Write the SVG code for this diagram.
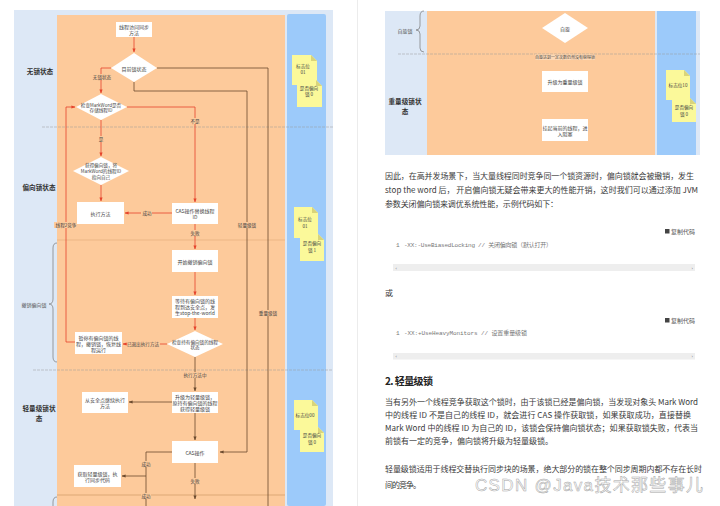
<svg xmlns="http://www.w3.org/2000/svg" width="720" height="506" viewBox="0 0 720 506">
<defs>
<style>
.lb{fill:#dde8f6}
.or{fill:#fdca9b}
.ln{fill:#9ccafa}
.bx{fill:#ffffff}
.t{font-family:"Noto Sans CJK SC","Liberation Sans",sans-serif;font-size:5px;fill:#444;text-anchor:middle;dominant-baseline:central}
.lab{font-family:"Noto Sans CJK SC","Liberation Sans",sans-serif;font-size:4.6px;fill:#444;text-anchor:middle;dominant-baseline:central}
.hd{font-family:"Noto Sans CJK SC","Liberation Sans",sans-serif;font-size:6.6px;font-weight:bold;fill:#333;text-anchor:middle;dominant-baseline:central}
.sl{font-family:"Noto Sans CJK SC","Liberation Sans",sans-serif;font-size:5px;fill:#555;text-anchor:middle;dominant-baseline:central}
.nt{fill:#fbf99a}
.fold{fill:#d9d47a}
.rd{fill:none;stroke:#e5432b;stroke-width:0.8}
.br{fill:none;stroke:#6b4a2e;stroke-width:0.8}
.sep{stroke:#9a9a9a;stroke-width:0.5;stroke-dasharray:3 1}
.brace{fill:none;stroke:#777;stroke-width:0.7}
.p{font-family:"Noto Sans CJK SC","Liberation Sans",sans-serif;font-size:8px;fill:#3a3a3a}
.code{font-family:"Liberation Mono","Noto Sans CJK SC",monospace;font-size:6px;fill:#777}
.cp{font-family:"Noto Sans CJK SC","Liberation Sans",sans-serif;font-size:6px;fill:#555}
.lbg{fill:#fdca9b}
</style>
<marker id="ar" viewBox="0 0 10 10" refX="9" refY="5" markerWidth="5" markerHeight="5" orient="auto"><path d="M0,1 L10,5 L0,9 z" fill="#e5432b"/></marker>
<marker id="ab" viewBox="0 0 10 10" refX="9" refY="5" markerWidth="5" markerHeight="5" orient="auto"><path d="M0,1 L10,5 L0,9 z" fill="#6b4a2e"/></marker>
</defs>

<rect width="720" height="506" fill="#ffffff"/>
<line x1="357.5" y1="0" x2="357.5" y2="506" stroke="#ececec" stroke-width="1"/>

<!-- LEFT PAGE background swimlanes -->
<g id="left-lanes">
<rect class="lb" x="14" y="10" width="319" height="496"/>
<rect class="or" x="57" y="15" width="228" height="491"/>
<rect class="ln" x="287" y="14" width="39" height="492" rx="2"/>
<line class="sep" x1="42" y1="127" x2="333" y2="127"/>
<line x1="57" y1="240" x2="285" y2="240" stroke="#e3a97b" stroke-width="0.6"/>
<line class="sep" x1="33" y1="370" x2="333" y2="370"/>
<line x1="57" y1="495" x2="285" y2="495" stroke="#c9905f" stroke-width="0.6"/>
<text class="hd" x="40" y="71">无锁状态</text>
<text class="hd" x="39" y="187">偏向锁状态</text>
<text class="sl" x="34" y="304">撤销偏向锁</text>
<path class="brace" d="M57,243 Q53,243 53,248 L53,299 Q53,304 49,304 Q53,304 53,309 L53,357 Q53,362 57,362"/>
<text class="hd" x="39" y="408">轻量级锁状</text>
<text class="hd" x="39" y="418">态</text>
<path class="brace" d="M57,497 Q53,497 53,502 L53,506"/>
</g>

<!-- sticky notes left page -->
<g id="note1">
<polygon class="nt" points="292,55 311,55 317,61 317,85 292,85"/>
<polygon class="fold" points="311,55 311,61 317,61"/>
<text class="lab" x="303" y="66">标志位</text><text class="lab" x="303" y="72">01</text>
<polygon class="nt" points="297,80 316,80 322,86 322,107 297,107"/>
<polygon class="fold" points="316,80 316,86 322,86"/>
<text class="lab" x="309" y="88">是否偏向</text><text class="lab" x="309" y="94">锁 0</text>
</g>
<g id="note2">
<polygon class="nt" points="294,207 312,207 318,213 318,238 294,238"/>
<polygon class="fold" points="312,207 312,213 318,213"/>
<text class="lab" x="305" y="219">标志位</text><text class="lab" x="305" y="226">01</text>
<polygon class="nt" points="300,234 318,234 324,240 324,261 300,261"/>
<polygon class="fold" points="318,234 318,240 324,240"/>
<text class="lab" x="312" y="243">是否偏向</text><text class="lab" x="312" y="250">锁 1</text>
</g>
<g id="note3">
<polygon class="nt" points="294,400 312,400 318,406 318,430 294,430"/>
<polygon class="fold" points="312,400 312,406 318,406"/>
<text class="lab" x="305" y="415">标志位00</text>
<polygon class="nt" points="300,427 318,427 324,433 324,452 300,452"/>
<polygon class="fold" points="318,427 318,433 324,433"/>
<text class="lab" x="312" y="435">是否偏向</text><text class="lab" x="312" y="442">锁 0</text>
</g>

<!-- connectors -->
<g id="connectors">
<path class="rd" d="M134,37 V52" marker-end="url(#ar)"/>
<path class="rd" d="M111,68 H101 V93" marker-end="url(#ar)"/>
<path class="br" d="M157,68 H268 V506"/>
<path class="br" d="M134,82 V91 H247 V452 H220" marker-end="url(#ab)"/>
<path class="rd" d="M127,107 H195 V202" marker-end="url(#ar)"/>
<path class="rd" d="M101,120 V156" marker-end="url(#ar)"/>
<path class="rd" d="M101,185 V201" marker-end="url(#ar)"/>
<path class="rd" d="M172,213 H125" marker-end="url(#ar)"/>
<path class="rd" d="M195,224 V249" marker-end="url(#ar)"/>
<path class="rd" d="M195,272 V295" marker-end="url(#ar)"/>
<path class="rd" d="M195,318 V330" marker-end="url(#ar)"/>
<path class="rd" d="M167,344 H123" marker-end="url(#ar)"/>
<path class="rd" d="M75,342 H66 V107 H75" marker-end="url(#ar)"/>
<path class="br" d="M195,357 V391" marker-end="url(#ab)"/>
<path class="br" d="M172,402 H129" marker-end="url(#ab)"/>
<path class="br" d="M195,413 V440" marker-end="url(#ab)"/>
<path class="br" d="M172,452 H146 V506"/>
<path class="br" d="M146,476 H122" marker-end="url(#ab)"/>
<path class="br" d="M195,463 V499" marker-end="url(#ab)"/>
<path class="br" d="M516,11 V28 H542" marker-end="url(#ab)"/>
<path class="br" d="M565,11 V13"/>
<path class="br" d="M639,11 V131 H590" marker-end="url(#ab)"/>
<path class="br" d="M565,43 V70" marker-end="url(#ab)"/>
<path class="br" d="M565,92 V118" marker-end="url(#ab)"/>
<rect class="lbg" x="92" y="74" width="20" height="6"/><text class="lab" x="102" y="77">无锁状态</text>
<rect class="lbg" x="190" y="118" width="10" height="6"/><text class="lab" x="195" y="121">不是</text>
<rect class="lbg" x="98" y="136" width="6" height="6"/><text class="lab" x="101" y="139">是</text>
<rect class="lbg" x="141" y="210" width="11" height="6"/><text class="lab" x="147" y="213">成功</text>
<rect class="lbg" x="190" y="230" width="10" height="6"/><text class="lab" x="195" y="233">失败</text>
<rect class="lbg" x="54" y="222" width="24" height="6"/><text class="lab" x="66" y="225">线程2竞争</text>
<rect class="lbg" x="237" y="222" width="20" height="6"/><text class="lab" x="247" y="225">轻量级锁</text>
<rect class="lbg" x="258" y="310" width="20" height="6"/><text class="lab" x="268" y="313">重量级锁</text>
<rect class="lbg" x="127" y="341" width="33" height="6"/><text class="lab" x="143" y="344">已退出执行方法</text>
<rect class="lbg" x="183" y="372" width="24" height="6"/><text class="lab" x="195" y="375">执行方法中</text>
<rect class="lbg" x="141" y="461" width="10" height="6"/><text class="lab" x="146" y="464">成功</text>
<rect class="lbg" x="141" y="493" width="10" height="6"/><text class="lab" x="146" y="496">成功</text>
<rect class="lbg" x="190" y="478" width="10" height="6"/><text class="lab" x="195" y="481">失败</text>
</g>

<!-- nodes left page -->
<g id="n-start"><rect class="bx" x="116" y="22" width="36" height="15"/><text class="t" x="134" y="26.5">线程访问同步</text><text class="t" x="134" y="32.5">方法</text></g>
<g id="n-d1"><polygon class="bx" points="134,53 157,68 134,82 111,68"/><text class="t" x="134" y="68">目前锁状态</text></g>
<g id="n-d2"><polygon class="bx" points="101,94 127,107 101,120 76,107"/><text class="t" x="101" y="104.5" style="font-size:4.6px">检查MarkWord是否</text><text class="t" x="101" y="110" style="font-size:4.6px">存储线程ID</text></g>
<g id="n-d3"><polygon class="bx" points="101,157 129,171 101,185 73,171"/><text class="t" x="101" y="165" style="font-size:4.6px">获得偏向锁，将</text><text class="t" x="101" y="171" style="font-size:4.6px">MarkWord的线程ID</text><text class="t" x="101" y="177" style="font-size:4.6px">指向自己</text></g>
<g id="n-exec"><rect class="bx" x="77" y="202" width="47" height="22"/><text class="t" x="100.5" y="213">执行方法</text></g>
<g id="n-cas1"><rect class="bx" x="172" y="203" width="46" height="21"/><text class="t" x="195" y="210.5">CAS操作替换线程</text><text class="t" x="195" y="216.5">ID</text></g>
<g id="n-revoke"><rect class="bx" x="172" y="250" width="46" height="22"/><text class="t" x="195" y="261">开始撤销偏向锁</text></g>
<g id="n-wait"><rect class="bx" x="172" y="296" width="46" height="22"/><text class="t" x="195" y="300.5">等待有偏向锁的线</text><text class="t" x="195" y="306.5">程到达安全点，发</text><text class="t" x="195" y="312.5">生stop-the-world</text></g>
<g id="n-d4"><polygon class="bx" points="195,331 223,344 195,357 167,344"/><text class="t" x="195" y="341.5" style="font-size:4.6px">检查持有偏向锁的线程</text><text class="t" x="195" y="347" style="font-size:4.6px">状态</text></g>
<g id="n-resume"><rect class="bx" x="75" y="332" width="47" height="22"/><text class="t" x="98.5" y="337">暂停有偏向锁的线</text><text class="t" x="98.5" y="343">程，撤销锁，恢复线</text><text class="t" x="98.5" y="349">程运行</text></g>
<g id="n-upgrade"><rect class="bx" x="172" y="392" width="46" height="21"/><text class="t" x="195" y="396.5">升级为轻量级锁，</text><text class="t" x="195" y="402.5">原持有偏向锁的线程</text><text class="t" x="195" y="408.5">获得轻量级锁</text></g>
<g id="n-safe"><rect class="bx" x="82" y="392" width="46" height="21"/><text class="t" x="105" y="399">从安全点继续执行</text><text class="t" x="105" y="405.5">方法</text></g>
<g id="n-cas2"><rect class="bx" x="172" y="441" width="46" height="22"/><text class="t" x="195" y="452">CAS操作</text></g>
<g id="n-light"><rect class="bx" x="74" y="465" width="47" height="22"/><text class="t" x="97.5" y="473">获取轻量级锁，执</text><text class="t" x="97.5" y="479">行同步代码</text></g>

<!-- RIGHT PAGE diagram -->
<g id="right-lanes">
<rect class="lb" x="385" y="11" width="315" height="144"/>
<rect class="or" x="427" y="11" width="228" height="144"/>
<rect class="ln" x="657" y="11" width="39" height="144"/>
<line class="sep" x1="398" y1="54" x2="700" y2="54"/>
<text class="sl" x="405" y="30">自旋锁</text>
<path class="brace" d="M424,11 Q420,11 420,16 L420,26 Q420,30 416,30 Q420,30 420,34 L420,48 Q420,52 424,52"/>
<text class="hd" x="405" y="100.5">重量级锁状</text>
<text class="hd" x="405" y="110.5">态</text>
</g>
<g id="note4">
<polygon class="nt" points="666,70 684,70 690,76 690,100 666,100"/>
<polygon class="fold" points="684,70 684,76 690,76"/>
<text class="lab" x="678" y="85">标志位10</text>
<polygon class="nt" points="672,98 690,98 696,104 696,122 672,122"/>
<polygon class="fold" points="690,98 690,104 696,104"/>
<text class="lab" x="684" y="107">是否偏向</text><text class="lab" x="684" y="114">锁 0</text>
</g>
<g id="n-spin"><polygon class="bx" points="565,13 588,28 565,43 542,28"/><text class="t" x="565" y="28">自旋</text></g>
<g id="spin-label"><rect x="535" y="54.5" width="60" height="5.5" fill="#fdd9b6"/><text class="lab" x="565" y="57.3" style="font-size:4px">自旋达到一定次数仍然没有获得锁</text></g>
<g id="n-heavy"><rect class="bx" x="542" y="71" width="46" height="21"/><text class="t" x="565" y="81.5">升级为重量级锁</text></g>
<g id="n-block"><rect class="bx" x="542" y="119" width="46" height="22"/><text class="t" x="565" y="127">挂起当前的线程，进</text><text class="t" x="565" y="133.5">入阻塞</text></g>

<!-- RIGHT PAGE text -->
<g id="article">
<text class="p" x="385" y="179" textLength="309">因此，在高并发场景下，当大量线程同时竞争同一个锁资源时，偏向锁就会被撤销，发生</text>
<text class="p" x="385" y="193" textLength="313">stop the word 后， 开启偏向锁无疑会带来更大的性能开销，这时我们可以通过添加 JVM</text>
<text class="p" x="385" y="207" textLength="173">参数关闭偏向锁来调优系统性能，示例代码如下：</text>

<rect x="665" y="229" width="4.5" height="4.5" fill="#444"/>
<text class="cp" x="671" y="234">复制代码</text>
<text class="code" x="396" y="247" fill="#aaa">1</text>
<text class="code" x="404" y="247" textLength="148">-XX:-UseBiasedLocking // 关闭偏向锁（默认打开）</text>
<rect x="393" y="264" width="302" height="7" fill="#eeeeee"/>
<text class="code" x="395" y="269.5" style="font-size:4px">‹</text>
<text class="code" x="691" y="269.5" style="font-size:4px">›</text>

<text class="p" x="385" y="296">或</text>

<rect x="665" y="318" width="4.5" height="4.5" fill="#444"/>
<text class="cp" x="671" y="323">复制代码</text>
<text class="code" x="396" y="335" fill="#aaa">1</text>
<text class="code" x="404" y="335" textLength="123">-XX:+UseHeavyMonitors  // 设置重量级锁</text>
<rect x="393" y="353" width="302" height="6.5" fill="#eeeeee"/>
<text class="code" x="395" y="358" style="font-size:4px">‹</text>
<text class="code" x="691" y="358" style="font-size:4px">›</text>

<text class="p" x="385" y="385" style="font-size:10px;font-weight:bold;fill:#222" textLength="48">2. 轻量级锁</text>
<text class="p" x="385" y="405" textLength="313">当有另外一个线程竞争获取这个锁时，由于该锁已经是偏向锁，当发现对象头 Mark Word</text>
<text class="p" x="385" y="418" textLength="306">中的线程 ID 不是自己的线程 ID，就会进行 CAS 操作获取锁，如果获取成功，直接替换</text>
<text class="p" x="385" y="431" textLength="313">Mark Word 中的线程 ID 为自己的 ID，该锁会保持偏向锁状态；如果获取锁失败，代表当</text>
<text class="p" x="385" y="444" textLength="168">前锁有一定的竞争，偏向锁将升级为轻量级锁。</text>
<text class="p" x="385" y="472" textLength="317">轻量级锁适用于线程交替执行同步块的场景，绝大部分的锁在整个同步周期内都不存在长时</text>
<text class="p" x="385" y="488" textLength="36">间的竞争。</text>
<text x="475" y="491" font-family="'Liberation Sans','Noto Sans CJK SC',sans-serif" font-size="17" fill="#ffffff" stroke="#a6a6a6" stroke-width="0.5" textLength="228">CSDN @Java技术那些事儿</text>
</g>
</svg>
